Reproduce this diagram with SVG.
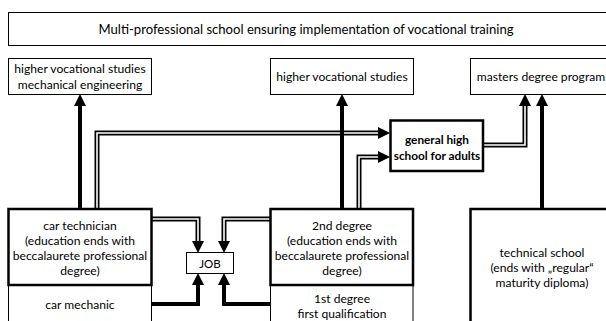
<svg xmlns="http://www.w3.org/2000/svg" width="606" height="321" viewBox="0 0 606 321">
<style>
  text { font-family: Lato, "Liberation Sans", Arial, sans-serif; font-size: 12.1px; fill: #000; text-anchor: middle; }
  .title { font-size: 13.1px; }
  .bold { font-weight: bold; font-size: 11.8px; }
  .thin { fill: #fff; stroke: #000; stroke-width: 1; }
  .thick { fill: #fff; stroke: #000; stroke-width: 2.5; }
  .side { fill: none; stroke: #000; stroke-width: 1; }
  .dbl-o { fill: none; stroke: #000; stroke-width: 5; stroke-linejoin: miter; }
  .dbl-i { fill: none; stroke: #fff; stroke-width: 1.6; stroke-linejoin: miter; }
  .bar { fill: none; stroke: #000; stroke-width: 4; stroke-linejoin: miter; }
</style>
<defs>
  <marker id="ah" markerUnits="userSpaceOnUse" markerWidth="12" markerHeight="12" viewBox="0 0 12 12" refX="0" refY="6" orient="auto">
    <path d="M0,0 L12,6 L0,12 z" fill="#000"/>
  </marker>
</defs>
<rect width="606" height="321" fill="#fff"/>

<g id="connectors">
  <!-- double line connectors -->
  <path class="dbl-o" d="M97,208 V133 H378" marker-end="url(#ah)"/>
  <path class="dbl-i" d="M97,208 V133 H378"/>
  <path class="dbl-o" d="M359,208 V157 H378" marker-end="url(#ah)"/>
  <path class="dbl-i" d="M359,208 V157 H378"/>
  <path class="dbl-o" d="M483,145 H525 V106" marker-end="url(#ah)"/>
  <path class="dbl-i" d="M483,145 H525 V106"/>
  <path class="dbl-o" d="M152,219 H198 V241" marker-end="url(#ah)"/>
  <path class="dbl-i" d="M152,219 H198 V241"/>
  <path class="dbl-o" d="M270,219 H224 V241" marker-end="url(#ah)"/>
  <path class="dbl-i" d="M270,219 H224 V241"/>
  <!-- thick connectors -->
  <path class="bar" d="M80,208 V106" marker-end="url(#ah)"/>
  <path class="bar" d="M342,208 V106" marker-end="url(#ah)"/>
  <path class="bar" d="M542,208 V106" marker-end="url(#ah)"/>
  <path class="bar" d="M152,304 H198 V285" marker-end="url(#ah)"/>
  <path class="bar" d="M270,304 H224 V285" marker-end="url(#ah)"/>
</g>

<g id="title">
  <rect class="thin" x="8.5" y="12.5" width="610" height="33"/>
  <text class="title" x="306" y="33.5">Multi-professional school ensuring implementation of vocational training</text>
</g>

<g id="hvs-mech">
  <rect class="thin" x="8.5" y="58.5" width="143" height="36"/>
  <text x="80" y="73">higher vocational studies</text>
  <text x="80" y="88.5">mechanical engineering</text>
</g>

<g id="hvs">
  <rect class="thin" x="270.5" y="58.5" width="143" height="36"/>
  <text x="342" y="80.5">higher vocational studies</text>
</g>

<g id="masters">
  <rect class="thin" x="470.5" y="58.5" width="150" height="36"/>
  <text x="541" y="80.5">masters degree program</text>
</g>

<g id="ghs">
  <rect class="thick" x="390.5" y="120.5" width="92.5" height="50.5"/>
  <text class="bold" x="437" y="143.5">general high</text>
  <text class="bold" x="437" y="159.5">school for adults</text>
</g>

<g id="car-mechanic">
  <path class="side" d="M8.5,285 V322 M151.5,285 V322"/>
  <text x="80" y="309">car mechanic</text>
</g>

<g id="car-technician">
  <rect class="thick" x="8.5" y="209" width="143" height="76"/>
  <text x="80" y="229.5">car technician</text>
  <text x="80" y="244.5">(education ends with</text>
  <text x="80" y="259.5">beccalaurete professional</text>
  <text x="80" y="274.5">degree)</text>
</g>

<g id="first-degree">
  <path class="side" d="M270.5,285 V322 M413,285 V322"/>
  <text x="342" y="302.5">1st degree</text>
  <text x="342" y="317.5">first qualification</text>
</g>

<g id="second-degree">
  <rect class="thick" x="270.5" y="209" width="142.5" height="76"/>
  <text x="342" y="229.5">2nd degree</text>
  <text x="342" y="244.5">(education ends with</text>
  <text x="342" y="259.5">beccalaurete professional</text>
  <text x="342" y="274.5">degree)</text>
</g>

<g id="job">
  <rect class="thin" x="186.5" y="252.5" width="47" height="21"/>
  <text x="210" y="267.5" style="font-size:11.5px">JOB</text>
</g>

<g id="technical-school">
  <rect class="thick" x="470.5" y="209" width="150" height="120"/>
  <text x="542" y="256.5">technical school</text>
  <text x="542" y="271.5">(ends with „regular“</text>
  <text x="542" y="286.5">maturity diploma)</text>
</g>
</svg>
